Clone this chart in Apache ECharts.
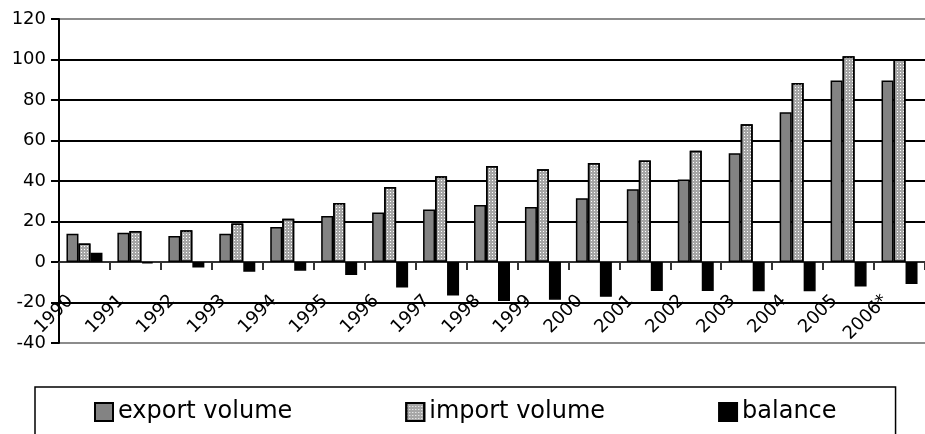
<!DOCTYPE html>
<html>
<head>
<meta charset="utf-8">
<script src="https://cdn.jsdelivr.net/npm/echarts@6/dist/echarts.min.js"></script>
<style>
  html, body { margin: 0; padding: 0; background: #fff; }
  #chart { width: 925px; height: 434px; }
</style>
</head>
<body>
<div id="chart"></div>
<script>
// Trade volumes by year
const years = ['1990', '1991', '1992', '1993', '1994', '1995', '1996', '1997', '1998',
               '1999', '2000', '2001', '2002', '2003', '2004', '2005', '2006*'];
const exportVolume = [14.0, 14.4, 12.9, 14.0, 17.3, 22.7, 24.4, 25.9, 28.1,
                      27.2, 31.5, 35.9, 40.8, 53.7, 73.9, 89.6, 89.6];
const importVolume = [9.1, 15.3, 15.7, 19.0, 21.4, 29.1, 37.0, 42.3, 47.4,
                      45.8, 48.9, 50.1, 55.0, 68.0, 88.4, 101.6, 100.0];
const balance = [4.6, -0.7, -2.7, -4.8, -4.3, -6.4, -12.6, -16.6, -19.2,
                 -18.6, -17.2, -14.3, -14.3, -14.4, -14.4, -12.1, -10.9];
const seriesNames = ['export volume', 'import volume', 'balance'];
const yTicks = { min: -40, max: 120, step: 20 };

const FONT = 'DejaVu Sans';
const chart = echarts.init(document.getElementById('chart'), null, { renderer: 'canvas' });

// grid lines: outer frame lines are grey, inner ones black
const nLines = (yTicks.max - yTicks.min) / yTicks.step + 1;
const gridColors = [];
for (let i = 0; i < nLines; i++) {
  gridColors.push(i === 0 || i === nLines - 1 ? '#8c8c8c' : '#000');
}

const barBase = {
  type: 'bar',
  barWidth: 12,
  barGap: '0%',
  animation: false
};

chart.setOption({
  backgroundColor: '#fff',
  textStyle: { fontFamily: FONT },
  grid: { left: 59, top: 19, width: 878, height: 324, containLabel: false },
  legend: {
    left: 35,
    top: 387,
    padding: [13, 59, 40, 59],
    itemGap: 113,
    itemWidth: 18,
    itemHeight: 18,
    borderColor: '#000',
    borderWidth: 1.5,
    borderRadius: 0,
    icon: 'rect',
    textStyle: { fontFamily: FONT, fontSize: 24, color: '#000' },
    data: seriesNames
  },
  xAxis: {
    type: 'category',
    data: years,
    axisLine: { onZero: true, lineStyle: { color: '#333', width: 2 } },
    axisTick: { show: true, length: 8, lineStyle: { color: '#333', width: 2 } },
    axisLabel: {
      rotate: 45,
      margin: -59,
      padding: [0, 20, 0, 0],
      fontFamily: FONT,
      fontSize: 18,
      color: '#000',
      interval: 0
    },
    splitLine: { show: false }
  },
  yAxis: {
    type: 'value',
    min: yTicks.min,
    max: yTicks.max,
    interval: yTicks.step,
    axisLine: { show: true, lineStyle: { color: '#000', width: 2 } },
    axisTick: { show: true, length: 8, lineStyle: { color: '#000', width: 2 } },
    axisLabel: { margin: 13, fontFamily: FONT, fontSize: 18, color: '#000' },
    splitLine: { show: true, lineStyle: { color: gridColors, width: 2 } }
  },
  series: [
    Object.assign({}, barBase, {
      name: seriesNames[0],
      data: exportVolume,
      itemStyle: { color: '#838383', borderColor: '#000', borderWidth: 1.5 }
    }),
    Object.assign({}, barBase, {
      name: seriesNames[1],
      data: importVolume,
      itemStyle: {
        color: '#a6a6a6',
        borderColor: '#000',
        borderWidth: 1.5,
        decal: {
          symbol: 'rect',
          symbolSize: 1,
          color: '#ffffff',
          dashArrayX: [1, 2],
          dashArrayY: [1, 2],
          rotation: 0
        }
      }
    }),
    Object.assign({}, barBase, {
      name: seriesNames[2],
      data: balance,
      itemStyle: { color: '#000', borderColor: '#000', borderWidth: 1.5 }
    })
  ]
});
</script>
</body>
</html>
